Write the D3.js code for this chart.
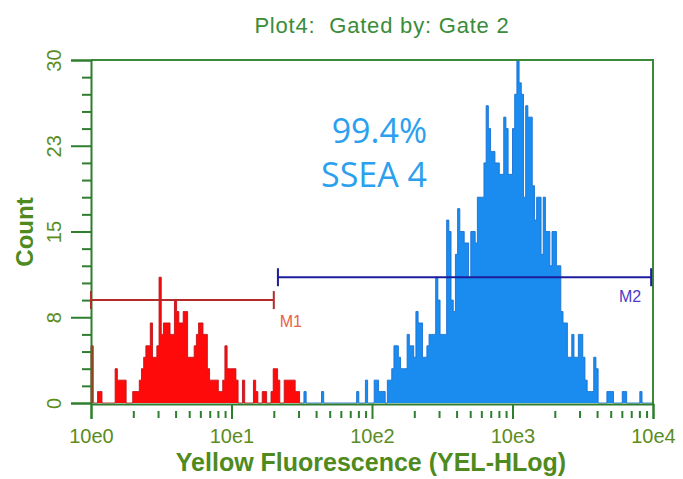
<!DOCTYPE html>
<html>
<head>
<meta charset="utf-8">
<script src="https://cdn.jsdelivr.net/npm/d3@7/dist/d3.min.js"></script>
<style>
  html, body { margin: 0; padding: 0; background: #ffffff; }
  svg { display: block; }
</style>
</head>
<body>
<svg id="chart" width="683" height="479"></svg>
<script>
// ---------------- data ----------------
const title = "Plot4:  Gated by: Gate 2";
const xLabel = "Yellow Fluorescence (YEL-HLog)";
const yLabel = "Count";
const decades = 4;
const channelCount = 256;
// counts per log channel (256 channels over 10^0 .. 10^4)
const counts = [
  5,0,0,1,1,0,0,0,0,0,0,3,2,2,2,2,
  0,0,0,1,1,1,2,3,4,5,5,7,4,4,5,11,
  6,7,7,7,6,6,9,8,7,7,8,8,4,4,4,5,
  6,7,7,6,6,3,2,2,2,2,1,1,2,5,3,3,
  3,3,2,0,0,2,0,0,0,0,2,1,0,0,1,1,
  0,0,1,3,3,2,0,0,2,2,2,2,2,1,1,0,
  0,1,0,0,0,0,0,0,0,1,0,0,0,0,0,0,
  0,0,0,0,0,0,0,0,0,1,0,0,0,2,0,0,
  0,2,2,1,1,1,0,2,2,3,5,5,4,3,3,3,
  6,5,5,4,8,7,7,4,4,5,6,6,6,11,9,6,
  6,6,16,15,9,8,13,17,15,15,14,14,11,15,15,14,
  18,18,18,21,26,24,22,22,21,21,20,20,25,24,20,20,
  24,27,30,28,27,18,26,25,25,19,16,18,18,13,18,15,
  15,12,15,15,12,12,8,7,7,4,4,6,4,4,6,6,
  4,2,1,1,1,4,3,0,0,0,0,1,1,1,0,0,
  0,0,1,1,0,0,0,0,0,0,1,0,0,0,0,0
];
const populationSplit = 31;          // channels below this value belong to the red population
const xTickValues = [1, 10, 100, 1000, 10000];
const xTickLabels = ["10e0", "10e1", "10e2", "10e3", "10e4"];
const yTickValues = [0, 7.5, 15, 22.5, 30];
const yTickLabels = ["0", "8", "15", "23", "30"];
const yMinorStep = 1.5;
const markerNames = ["M1", "M2"];
const markerStart = [1, 21.4];
const markerEnd = [20, 9700];
const markerLevel = [9, 11];
const annotationLines = ["99.4%", "SSEA 4"];

// ---------------- layout ----------------
const svg = d3.select("#chart");
const pLeft = 91, pRight = 653, pTop = 60, pBottom = 403;
const x = d3.scaleLog().domain([1, 1e4]).range([pLeft, pRight]);
const y = d3.scaleLinear().domain([0, 30]).range([pBottom, pTop]);

const green = "#2f7d2f";
const labelGreen = "#5a8c1e";
const edge = i => Math.pow(10, i * decades / channelCount);

const bins = counts.map((c, i) => ({ i, x0: edge(i), x1: edge(i + 1), c }));
const redBins = bins.filter(b => b.x0 < populationSplit);
const blueBins = bins.filter(b => b.x0 >= populationSplit);

function drawPop(data, fill, stroke) {
  const g = svg.append("g");
  const pts = [[data[0].x0, 0]];
  data.forEach(d => { pts.push([d.x0, d.c]); pts.push([d.x1, d.c]); });
  pts.push([data[data.length - 1].x1, 0]);
  const line = d3.line().x(p => x(p[0])).y(p => y(p[1]));
  g.append("path")
    .attr("d", line(pts) + "Z")
    .attr("fill", fill).attr("stroke", "none");
  g.append("path")
    .attr("d", line(pts))
    .attr("fill", "none").attr("stroke", stroke).attr("stroke-width", 0.9);
}
drawPop(redBins, "#ff0a0a", "#c0151c");
drawPop(blueBins, "#1a8cf0", "#1870d4");

// frame
svg.append("path")
  .attr("d", `M${pLeft},${pTop}H${pRight}V${pBottom + 1}`)
  .attr("fill", "none").attr("stroke", "#3a8a3a").attr("stroke-width", 2);

const fontFam = "'Liberation Sans', Arial, sans-serif";

// x axis major
const xAxis = svg.append("g").attr("transform", `translate(0,${pBottom + 1})`)
  .call(d3.axisBottom(x).tickValues(xTickValues).tickSize(15)
    .tickFormat((d, i) => xTickLabels[i]).tickPadding(10));
xAxis.select(".domain").attr("stroke", green).attr("stroke-width", 2);
xAxis.selectAll(".tick line").attr("stroke", green).attr("stroke-width", 2);
xAxis.selectAll(".tick text").attr("fill", labelGreen)
  .style("font-family", fontFam).style("font-size", "20px");

// x axis minor
const xMinor = [];
for (let d = 0; d < decades; d++) for (let k = 2; k <= 9; k++) xMinor.push(k * Math.pow(10, d));
const xMinAxis = svg.append("g").attr("transform", `translate(0,${pBottom + 8})`)
  .call(d3.axisBottom(x).tickValues(xMinor).tickSize(7).tickFormat(""));
xMinAxis.select(".domain").remove();
xMinAxis.selectAll(".tick line").attr("stroke", green).attr("stroke-width", 2);

// y axis major
const yAxis = svg.append("g").attr("transform", `translate(${pLeft},0)`)
  .call(d3.axisLeft(y).tickValues(yTickValues).tickSize(20)
    .tickFormat((d, i) => yTickLabels[i]).tickPadding(8));
yAxis.select(".domain").attr("stroke", green).attr("stroke-width", 2);
yAxis.selectAll(".tick line").attr("stroke", green).attr("stroke-width", 2);
yAxis.selectAll(".tick text")
  .attr("fill", labelGreen)
  .attr("transform", "rotate(-90)")
  .attr("x", 0).attr("y", -30)
  .attr("dy", "0")
  .attr("text-anchor", "middle")
  .style("font-family", fontFam).style("font-size", "20px");

// y axis minor
const yMinor = d3.range(0, 30.001, yMinorStep).filter(v => !yTickValues.includes(v));
const yMinAxis = svg.append("g").attr("transform", `translate(${pLeft},0)`)
  .call(d3.axisLeft(y).tickValues(yMinor).tickSize(9).tickFormat(""));
yMinAxis.select(".domain").remove();
yMinAxis.selectAll(".tick line").attr("stroke", green).attr("stroke-width", 2);

// markers
const markerColors = ["#b52a2a", "#1c1c9c"];
const markerTextColors = ["#e8604a", "#4a3cc8"];
markerNames.forEach((name, k) => {
  const g = svg.append("g");
  const yy = y(markerLevel[k]);
  const x0 = x(markerStart[k]), x1 = x(markerEnd[k]);
  g.append("line").attr("x1", x0).attr("x2", x1).attr("y1", yy).attr("y2", yy)
    .attr("stroke", markerColors[k]).attr("stroke-width", 2);
  [x0, x1].forEach(xx => g.append("line").attr("x1", xx).attr("x2", xx)
    .attr("y1", yy - 9).attr("y2", yy + 9)
    .attr("stroke", markerColors[k]).attr("stroke-width", 2));
  const t = g.append("text").text(name)
    .attr("fill", markerTextColors[k])
    .style("font-family", fontFam)
    .style("font-size", "16px");
  if (k === 0) t.attr("x", x1 + 6).attr("y", yy + 27);
  else t.attr("x", x1 - 10).attr("y", yy + 25).attr("text-anchor", "end");
});

// annotation
svg.append("g").selectAll("text").data(annotationLines).join("text")
  .text(d => d)
  .attr("x", 427).attr("y", (d, i) => 143 + i * 44)
  .attr("text-anchor", "end")
  .attr("fill", "#2ba0ee")
  .style("font-family", "'Open Sans', sans-serif")
  .style("font-size", "34px");

// title
svg.append("text").text(title)
  .attr("x", 382).attr("y", 33).attr("text-anchor", "middle")
  .attr("fill", "#3a8c3a")
  .style("white-space", "pre")
  .style("letter-spacing", "0.8px")
  .style("font-family", fontFam).style("font-size", "22px");

// axis titles
svg.append("text").text(xLabel)
  .attr("x", 371).attr("y", 471).attr("text-anchor", "middle")
  .attr("fill", "#4f8a1e").attr("font-weight", "bold")
  .style("font-family", fontFam).style("font-size", "25px");
svg.append("text").text(yLabel)
  .attr("transform", "translate(33,232) rotate(-90)").attr("text-anchor", "middle")
  .attr("fill", "#4f8a1e").attr("font-weight", "bold")
  .style("font-family", fontFam).style("font-size", "24px");
</script>
</body>
</html>
